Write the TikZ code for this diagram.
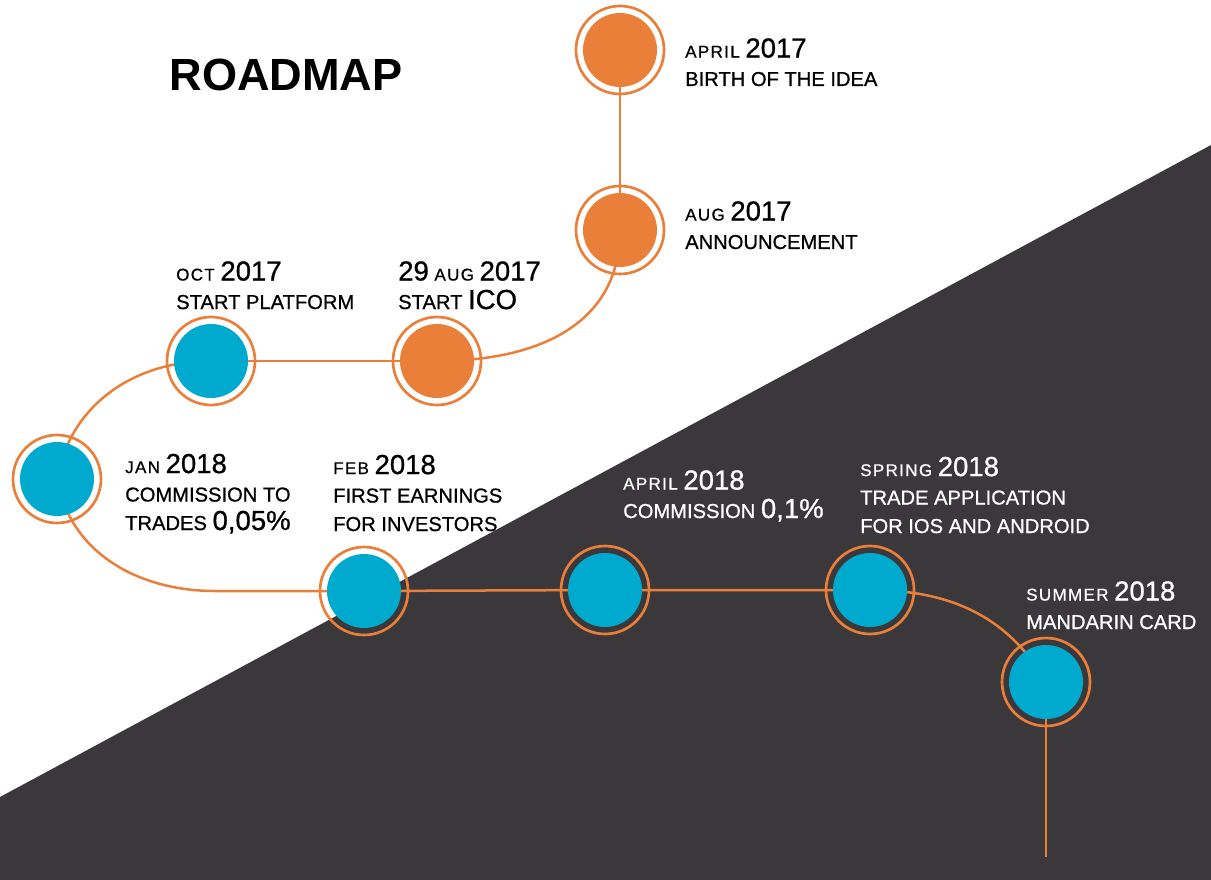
\documentclass[tikz,border=0pt]{standalone}
\usepackage{fontspec}
\setmainfont{Liberation Sans}
\newfontfamily\lblfont{Liberation Sans}[FakeBold=0.8]
\usepackage{tikz}
\usetikzlibrary{positioning}
\definecolor{rmorange}{HTML}{EA7F3A}
\definecolor{rmblue}{HTML}{00AACE}
\definecolor{rmdark}{HTML}{3A383A}
\newcommand{\mon}[1]{{\fontsize{14.5}{16}\selectfont\addfontfeature{LetterSpace=8}#1}}
\newcommand{\yr}[1]{{\fontsize{23.5}{24}\selectfont #1}}
\pgfdeclarelayer{back}
\pgfdeclarelayer{road}
\pgfsetlayers{back,road,main}
\tikzset{
  milestone/.style={circle,draw=rmorange,line width=0.08cm,minimum size=2.64cm,
            inner sep=0pt,outer sep=0pt,
            path picture={\fill[#1] (path picture bounding box.center) circle (1.11cm);}},
  roadline/.style={draw=rmorange,line width=0.075cm},
  lbl/.style={anchor=base west,align=left,inner sep=0pt,
            font=\lblfont\fontsize{17.2}{24.3}\selectfont,text=black},
  lbldark/.style={lbl,text=white},
}

\begin{document}
\begin{tikzpicture}[x=0.03cm,y=-0.03cm]
  \useasboundingbox (0,0) rectangle (1211,880);
  \begin{pgfonlayer}{back}
    \fill[white] (0,0) rectangle (1211,880);
    \fill[rmdark] (0,797) -- (1211,145) -- (1211,880) -- (0,880) -- cycle;
  \end{pgfonlayer}
  \node[font=\fontsize{38.5}{40}\selectfont\bfseries] (title) at (286,75) {ROADMAP};
  % 2017
  \node[milestone=rmorange] (apr17) at (620,50) {};
  \node[milestone=rmorange] (aug17) at (620,230) {};
  \node[milestone=rmorange] (ico)   at (437,361) {};
  \node[milestone=rmblue]   (oct17) at (211,361) {};
  % 2018
  \node[milestone=rmblue]   (jan18) at (57,479) {};
  \node[milestone=rmblue]   (feb18) at (364,591) {};
  \node[milestone=rmblue]   (apr18) at (605,590) {};
  \node[milestone=rmblue]   (spr18) at (870,590) {};
  \node[milestone=rmblue]   (sum18) at (1046,682) {};
  \coordinate (jfbend) at (215,591);
  \coordinate (roadend) at (1046,857);
  % labels, anchored at the baseline of their last line
  \node[lbl] (tapr17) at (685,86) {\mon{APRIL} \yr{2017}\\BIRTH OF THE IDEA};
  \node[lbl] (taug17) at (685,249) {\mon{AUG} \yr{2017}\\ANNOUNCEMENT};
  \node[lbl] (toct17) at (176,309) {\mon{OCT} \yr{2017}\\START PLATFORM};
  \node[lbl] (tico)   at (398,309) {\yr{29} \mon{AUG} \yr{2017}\\START \yr{ICO}};
  \node[lbl] (tjan18) at (125,530) {\mon{JAN} \yr{2018}\\COMMISSION TO\\TRADES \yr{0,05\%}};
  \node[lbl] (tfeb18) at (333,531) {\mon{FEB} \yr{2018}\\FIRST EARNINGS\\FOR INVESTORS};
  \node[lbldark] (tapr18) at (623,518) {\mon{APRIL} \yr{2018}\\COMMISSION \yr{0,1\%}};
  \node[lbldark] (tspr18) at (860,533) {\mon{SPRING} \yr{2018}\\TRADE APPLICATION\\FOR IOS AND ANDROID};
  \node[lbldark] (tsum18) at (1026,629) {\mon{SUMMER} \yr{2018}\\MANDARIN CARD};
  \begin{pgfonlayer}{road}
    \draw[roadline] (apr17.center) -- (aug17.center);
    \draw[roadline] (aug17.center) to[out=-90,in=0,looseness=1.1] (ico.center);
    \draw[roadline] (ico.center) -- (oct17.center);
    \draw[roadline] (oct17.center) to[out=180,in=80] (jan18.center);
    \draw[roadline] (jan18.center) to[out=-80,in=180] (jfbend) -- (feb18.center);
    \draw[roadline] (feb18.center) -- (apr18.center) -- (spr18.center);
    \draw[roadline] (spr18.center) to[out=0,in=120] (sum18.center);
    \draw[roadline] (sum18.center) -- (roadend);
  \end{pgfonlayer}
\end{tikzpicture}
\end{document}
